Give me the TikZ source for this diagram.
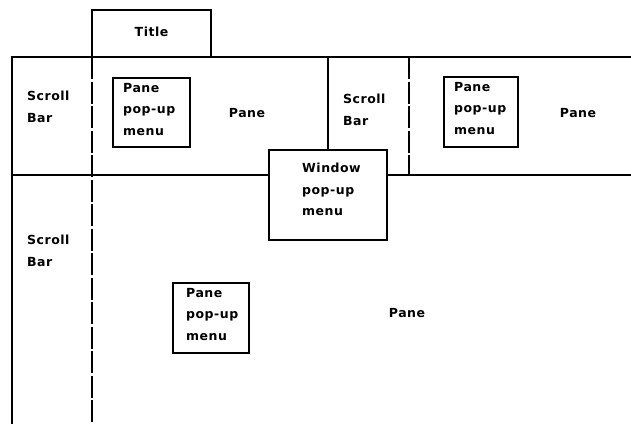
\documentclass[tikz,border=0pt]{standalone}
\usepackage{fontspec}
\setmainfont{DejaVu Sans}[BoldFont={DejaVu Sans Bold},BoldFeatures={LetterSpace=4}]
\begin{document}
\begin{tikzpicture}[x=1pt,y=-1pt,
  frame/.style={line width=1.4pt,line cap=rect},
  dashline/.style={line width=1.4pt,dash pattern=on 22pt off 2.5pt},
  menubox/.style={draw,line width=1.6pt,fill=white},
  lbl/.style={font=\bfseries\fontsize{12.5}{21.5}\selectfont,align=left,anchor=north west,inner sep=0pt}]
\useasboundingbox (0,0) rectangle (631,423);
% title
\draw[frame] (92,57) |- (211,10) -- (211,57);
\node[lbl,anchor=center] (title) at (151.5,32) {Title};
% frame lines
\draw[frame] (631,57) -- (12,57) -- (12,423);
\draw[dashline] (92,57) -- (92,423);
\draw[frame] (12,175) -- (269,175);
\draw[frame] (387,175) -- (631,175);
\draw[frame] (328,57) -- (328,150);
\draw[dashline] (409,57) -- (409,175);
% window pop-up
\draw[menubox] (269,150) rectangle (387,240);
\node[lbl] (win) at (302,163) {Window\\pop-up\\menu};
% pane pop-ups
\draw[menubox] (113,78) rectangle (190,147);
\node[lbl] (pm1) at (123,83) {Pane\\pop-up\\menu};
\draw[menubox] (444,77) rectangle (518,147);
\node[lbl] (pm2) at (454,82) {Pane\\pop-up\\menu};
\draw[menubox] (173,283) rectangle (249,353);
\node[lbl] (pm3) at (186,288) {Pane\\pop-up\\menu};
% scroll bars
\node[lbl] (sb1) at (27,91) {Scroll\\Bar};
\node[lbl] (sb2) at (343,94) {Scroll\\Bar};
\node[lbl] (sb3) at (27,235) {Scroll\\Bar};
% panes
\node[lbl,anchor=center] (p1) at (247,113) {Pane};
\node[lbl,anchor=center] (p2) at (578,113) {Pane};
\node[lbl,anchor=center] (p3) at (407,313) {Pane};
\end{tikzpicture}
\end{document}
